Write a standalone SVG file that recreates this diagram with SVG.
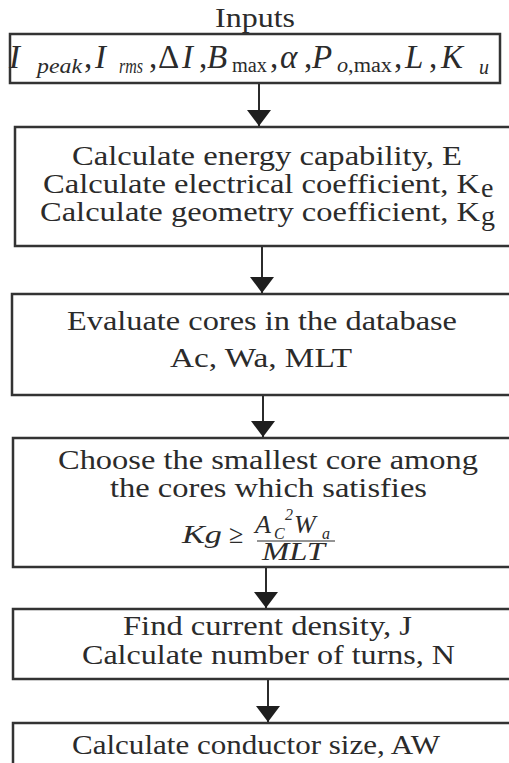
<svg xmlns="http://www.w3.org/2000/svg" width="509" height="763" viewBox="0 0 509 763">
  <style>
    .box { fill: #ffffff; stroke: #333333; stroke-width: 2.5; }
    .t { font-family: "Liberation Serif", "Times New Roman", Times, serif; fill: #2b2b2b; font-size: 28px; }
    .m { font-family: "Liberation Serif", "Times New Roman", Times, serif; fill: #2b2b2b; font-style: italic; font-size: 33px; }
    .r { font-style: normal; }
    .s { font-size: 20px; }
    .f { font-family: "Liberation Serif", "Times New Roman", Times, serif; fill: #2b2b2b; font-style: italic; font-size: 26px; }
    .fs { font-size: 16px; }
    .conn { stroke: #2b2b2b; stroke-width: 2; fill: none; marker-end: url(#ah); }
  </style>
  <defs>
    <marker id="ah" markerUnits="userSpaceOnUse" viewBox="0 0 16 24" markerWidth="16" markerHeight="24" refX="16" refY="12" orient="auto">
      <path d="M0,0 L16,12 L0,24 Z" fill="#1e1e1e"/>
    </marker>
  </defs>
  <rect x="0" y="0" width="509" height="763" fill="#ffffff"/>

  <text id="title" class="t" x="215" y="27" font-size="24" textLength="80" lengthAdjust="spacingAndGlyphs">Inputs</text>

  <g id="inputs">
    <rect class="box" x="10" y="34" width="490" height="49"/>
    <text class="m" x="9" y="68">I</text>
    <text class="m s" x="37" y="73" textLength="45" lengthAdjust="spacingAndGlyphs">peak</text>
    <text class="m r" x="84" y="68">,</text>
    <text class="m" x="95" y="68">I</text>
    <text class="m s" x="119" y="73" textLength="24" lengthAdjust="spacingAndGlyphs">rms</text>
    <text class="m r" x="149" y="68">,</text>
    <text class="m r" x="158" y="68">Δ</text>
    <text class="m" x="182" y="68">I</text>
    <text class="m r" x="199" y="68">,</text>
    <text class="m" x="207" y="68">B</text>
    <text class="m r s" x="232" y="72" textLength="35" lengthAdjust="spacingAndGlyphs">max</text>
    <text class="m r" x="270" y="68">,</text>
    <text class="m" x="280" y="68">α</text>
    <text class="m r" x="304" y="68">,</text>
    <text class="m" x="312" y="68">P</text>
    <text class="m s" x="337" y="72" textLength="55" lengthAdjust="spacingAndGlyphs">o<tspan class="r">,max</tspan></text>
    <text class="m r" x="394" y="68">,</text>
    <text class="m" x="405" y="68">L</text>
    <text class="m r" x="429" y="68">,</text>
    <text class="m" x="441" y="68">K</text>
    <text class="m s" x="479" y="74">u</text>
  </g>

  <g id="calc-coeffs">
    <rect class="box" x="15" y="127" width="515" height="119"/>
    <text class="t" x="72" y="165" textLength="390" lengthAdjust="spacingAndGlyphs">Calculate energy capability, E</text>
    <text class="t" x="43" y="193" textLength="437" lengthAdjust="spacingAndGlyphs">Calculate electrical coefficient, K</text>
    <text class="t" x="481" y="197" font-size="17">e</text>
    <text class="t" x="40" y="221" textLength="440" lengthAdjust="spacingAndGlyphs">Calculate geometry coefficient, K</text>
    <text class="t" x="481" y="225" font-size="17">g</text>
  </g>

  <g id="evaluate">
    <rect class="box" x="12" y="294" width="518" height="101"/>
    <text class="t" x="67" y="330" textLength="390" lengthAdjust="spacingAndGlyphs">Evaluate cores in the database</text>
    <text class="t" x="170" y="367" textLength="182" lengthAdjust="spacingAndGlyphs">Ac, Wa, MLT</text>
  </g>

  <g id="choose">
    <rect class="box" x="13" y="438" width="517" height="129"/>
    <text class="t" x="58" y="469" textLength="420" lengthAdjust="spacingAndGlyphs">Choose the smallest core among</text>
    <text class="t" x="110" y="497" textLength="317" lengthAdjust="spacingAndGlyphs">the cores which satisfies</text>
    <text class="f" x="182" y="543" textLength="40" lengthAdjust="spacingAndGlyphs">Kg</text>
    <text class="f r" x="229" y="543" font-size="22">≥</text>
    <text class="f" x="255" y="533">A</text>
    <text class="f fs" x="274" y="539">C</text>
    <text class="f r fs" x="285" y="520">2</text>
    <text class="f" x="294" y="533">W</text>
    <text class="f fs" x="322" y="539">a</text>
    <line x1="257" y1="541" x2="335" y2="541" stroke="#2b2b2b" stroke-width="1"/>
    <text class="f" x="262" y="560" textLength="63" lengthAdjust="spacingAndGlyphs">MLT</text>
  </g>

  <g id="turns">
    <rect class="box" x="13" y="609" width="517" height="70"/>
    <text class="t" x="123" y="635" textLength="289" lengthAdjust="spacingAndGlyphs">Find current density, J</text>
    <text class="t" x="82" y="664" textLength="373" lengthAdjust="spacingAndGlyphs">Calculate number of turns, N</text>
  </g>

  <g id="conductor">
    <rect class="box" x="13" y="723" width="517" height="60"/>
    <text class="t" x="72" y="754" textLength="368" lengthAdjust="spacingAndGlyphs">Calculate conductor size, AW</text>
  </g>

  <g id="connectors">
    <line class="conn" x1="259" y1="84" x2="259" y2="126"/>
    <line class="conn" x1="262" y1="247" x2="262" y2="293"/>
    <line class="conn" x1="263" y1="396" x2="263" y2="437"/>
    <line class="conn" x1="266" y1="568" x2="266" y2="608"/>
    <line class="conn" x1="268" y1="680" x2="268" y2="722"/>
  </g>
</svg>
